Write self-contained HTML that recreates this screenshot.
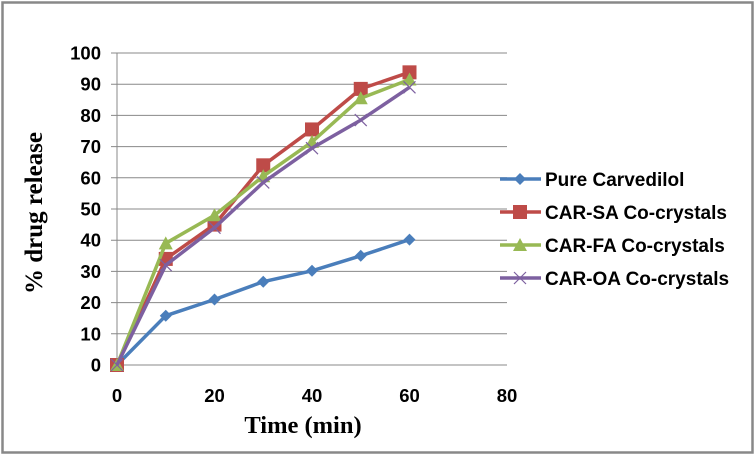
<!DOCTYPE html>
<html><head><meta charset="utf-8"><style>
body{margin:0;background:#fff}
svg{display:block;font-family:"Liberation Sans",Arial,sans-serif}
</style></head><body>
<svg id="chart" width="756" height="456">
<rect x="2.5" y="2.5" width="750" height="450" fill="#fff" stroke="#888" stroke-width="2.5"/>
<g id="grid"></g><g id="axes"></g><g id="series"></g><g id="legend"></g>
<text x="0" y="0" transform="translate(42 213) rotate(-90)" font-family="Liberation Serif,serif" font-weight="bold" font-size="25" text-anchor="middle">% drug release</text>
<text x="303" y="433" font-family="Liberation Serif,serif" font-weight="bold" font-size="24.5" text-anchor="middle">Time (min)</text>
</svg>
<script>
const xTicks=[0,20,40,60,80];
const yTicks=[0,10,20,30,40,50,60,70,80,90,100];
const times=[0,10,20,30,40,50,60];
const pure=[0,15.8,21,26.7,30.2,35,40.2];
const sa=[0,34,45,64,75.5,88.5,93.8];
const fa=[0,39,48,60.5,71.5,85.5,91.5];
const oa=[0,32,44,58.5,69.5,78.5,89];
const seriesNames=["Pure Carvedilol","CAR-SA Co-crystals","CAR-FA Co-crystals","CAR-OA Co-crystals"];
const NS="http://www.w3.org/2000/svg";
const X=v=>117+v*(390/80), Y=v=>365-v*3.12;
function mk(t,a,p){const e=document.createElementNS(NS,t);for(const k in a)e.setAttribute(k,a[k]);p.appendChild(e);return e;}
const grid=document.getElementById('grid'),axes=document.getElementById('axes'),ser=document.getElementById('series'),leg=document.getElementById('legend');
yTicks.forEach(v=>{
 const l=mk('line',{x1:111,x2:507,y1:Y(v),y2:Y(v),stroke:'#888','stroke-width':1},grid);
 
 
 const t=mk('text',{x:101,y:Y(v)+6.5,'text-anchor':'end','font-size':18.5,'font-weight':'bold'},axes);t.textContent=v;
 
 
});
const ya=mk('line',{x1:117,x2:117,y1:Y(100),y2:Y(0),stroke:'#888','stroke-width':1},axes);


xTicks.forEach(v=>{
 const t=mk('text',{x:X(v),y:Y(0)+37,'text-anchor':'middle','font-size':18.5,'font-weight':'bold'},axes);t.textContent=v;
 
 
});
function marker(type,x,y,c,g){
 let e;
 if(type==='d')e=mk('polygon',{points:`${x},${y-6} ${x+6},${y} ${x},${y+6} ${x-6},${y}`,fill:c},g);
 else if(type==='s')e=mk('rect',{x:x-7,y:y-7,width:14,height:14,fill:c},g);
 else if(type==='t')e=mk('polygon',{points:`${x},${y-7} ${x+7},${y+6} ${x-7},${y+6}`,fill:c},g);
 else e=mk('path',{d:`M${x-6},${y-6}L${x+6},${y+6}M${x+6},${y-6}L${x-6},${y+6}`,stroke:c,'stroke-width':1.2,fill:'none'},g);
 
 
}
const defs=[[pure,'#4a7ebb','d'],[sa,'#be4b48','s'],[fa,'#98b954','t'],[oa,'#7d60a0','x']];
defs.forEach(([d,c,m],i)=>{
 const g=mk('g',{},ser);
 
 
 const pl=mk('polyline',{points:d.map((v,j)=>X(times[j])+','+Y(v)).join(' '),fill:'none',stroke:c,'stroke-width':3.5,'stroke-linejoin':'round'},g);
 
 
 d.forEach((v,j)=>marker(m,X(times[j]),Y(v),c,g));
 const ly=179+i*33;
 const lg=mk('g',{},leg);
 
 
 mk('line',{x1:500,x2:541,y1:ly,y2:ly,stroke:c,'stroke-width':3.5},lg);
 marker(m,520,ly,c,lg);
 const t=mk('text',{x:545,y:ly+7,'font-size':19,'font-weight':'bold'},lg);t.textContent=seriesNames[i];
});
</script>
</body></html>
